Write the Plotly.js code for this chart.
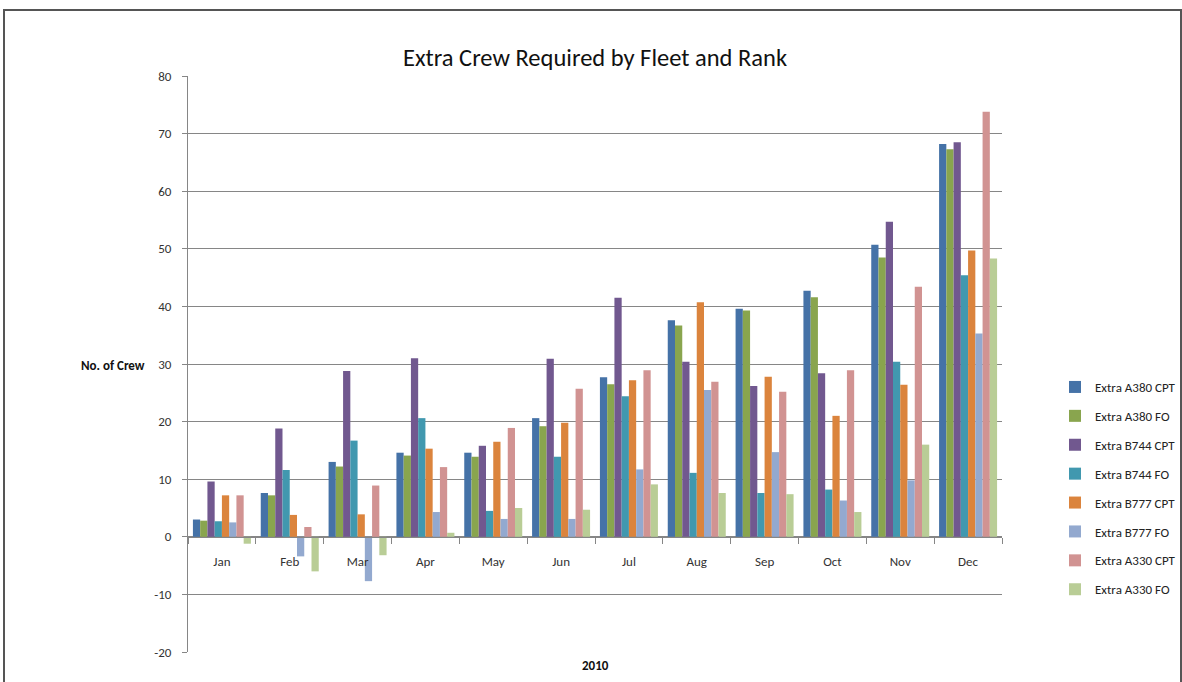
<!DOCTYPE html>
<html>
<head>
<meta charset="utf-8">
<script src="https://cdn.plot.ly/plotly-3.0.1.min.js"></script>
<style>body{margin:0;background:#fff}#chart{width:1182px;height:682px}</style>
</head>
<body>
<div id="chart"></div>
<script>
const months = ["Jan","Feb","Mar","Apr","May","Jun","Jul","Aug","Sep","Oct","Nov","Dec"];
const seriesNames = ["Extra A380 CPT","Extra A380 FO","Extra B744 CPT","Extra B744 FO","Extra B777 CPT","Extra B777 FO","Extra A330 CPT","Extra A330 FO"];
const a380Cpt = [3.0, 7.6, 13.0, 14.6, 14.6, 20.6, 27.7, 37.6, 39.6, 42.7, 50.7, 68.2];
const a380Fo  = [2.8, 7.2, 12.2, 14.1, 13.9, 19.2, 26.5, 36.7, 39.3, 41.6, 48.5, 67.3];
const b744Cpt = [9.6, 18.8, 28.8, 31.0, 15.8, 30.9, 41.5, 30.4, 26.2, 28.4, 54.7, 68.5];
const b744Fo  = [2.7, 11.6, 16.7, 20.6, 4.5, 13.9, 24.4, 11.1, 7.6, 8.2, 30.4, 45.4];
const b777Cpt = [7.2, 3.8, 3.9, 15.3, 16.5, 19.8, 27.2, 40.7, 27.8, 21.0, 26.4, 49.7];
const b777Fo  = [2.5, -3.4, -7.7, 4.3, 3.1, 3.1, 11.7, 25.5, 14.7, 6.3, 9.8, 35.3];
const a330Cpt = [7.2, 1.7, 8.9, 12.1, 18.9, 25.7, 28.9, 26.9, 25.2, 28.9, 43.4, 73.8];
const a330Fo  = [-1.2, -6.0, -3.2, 0.7, 5.0, 4.7, 9.1, 7.6, 7.4, 4.3, 16.0, 48.3];
const yTicks = [-20,-10,0,10,20,30,40,50,60,70,80];

const allValues = [a380Cpt, a380Fo, b744Cpt, b744Fo, b777Cpt, b777Fo, a330Cpt, a330Fo];
const colors = ["#4572A7","#89A54E","#71588F","#4198AF","#DB843D","#93A9CF","#D19392","#B9CD96"];
const FONT = "Carlito, 'Liberation Sans Narrow', 'DejaVu Sans Condensed', 'Open Sans', sans-serif";

const traces = allValues.map((vals, i) => ({
  type: "bar",
  name: seriesNames[i],
  x: months,
  y: vals,
  marker: {color: colors[i], line: {width: 0}},
  legendgroup: "g" + i
}));

const layout = {
  width: 1182, height: 682,
  paper_bgcolor: "#ffffff", plot_bgcolor: "#ffffff",
  margin: {l: 188, r: 180, t: 76, b: 30, autoexpand: false},
  font: {family: FONT, size: 13, color: "#222"},
  title: {text: "Extra Crew Required by Fleet and Rank", font: {family: FONT, size: 24.5, color: "#111"},
          xref: "paper", x: 0.5, xanchor: "center", yref: "container", y: 1 - 57/682, yanchor: "middle"},
  barmode: "group",
  bargap: 0.145,
  bargroupgap: 0,
  showlegend: true,
  legend: {xref: "container", yref: "container", x: 1055/1182, xanchor: "left", y: 1 - 372/682, yanchor: "top",
           font: {family: FONT, size: 13, color: "#222"},
           tracegroupgap: 9, itemwidth: 30, bgcolor: "rgba(0,0,0,0)"},
  xaxis: {
    type: "category", anchor: "free", position: 0.2,
    showline: true, linecolor: "#868686", linewidth: 1,
    ticks: "outside", ticklen: 6, tickcolor: "#868686", tickson: "boundaries",
    tickfont: {family: FONT, size: 13, color: "#333"}, ticklabelstandoff: 13,
    showgrid: false, zeroline: false, fixedrange: true
  },
  yaxis: {
    range: [-20, 80], tickvals: yTicks, ticktext: yTicks.map(String),
    showline: true, linecolor: "#868686", linewidth: 1,
    ticks: "outside", ticklen: 5, tickcolor: "#868686",
    showgrid: true, gridcolor: "#868686", gridwidth: 1,
    zeroline: true, zerolinecolor: "#868686", zerolinewidth: 1,
    tickfont: {family: FONT, size: 13, color: "#333"}, ticklabelstandoff: 8
  },
  annotations: [
    {text: "<b>No. of Crew</b>", xref: "paper", yref: "paper", x: (113-188)/814, y: (652-365)/576,
     xanchor: "center", yanchor: "middle", showarrow: false, font: {family: FONT, size: 13, color: "#111"}},
    {text: "<b>2010</b>", xref: "paper", yref: "paper", x: 0.5, y: (652-665)/576,
     xanchor: "center", yanchor: "middle", showarrow: false, font: {family: FONT, size: 13, color: "#111"}}
  ],
  shapes: [
    {type: "rect", xref: "paper", yref: "paper", x0: (4-188)/814, x1: (1181-188)/814, y0: (652-690)/576, y1: (652-10)/576,
     line: {color: "#555", width: 2}, fillcolor: "rgba(0,0,0,0)"}
  ]
};

Plotly.newPlot("chart", traces, layout, {displayModeBar: false, staticPlot: true});
</script>
</body>
</html>
